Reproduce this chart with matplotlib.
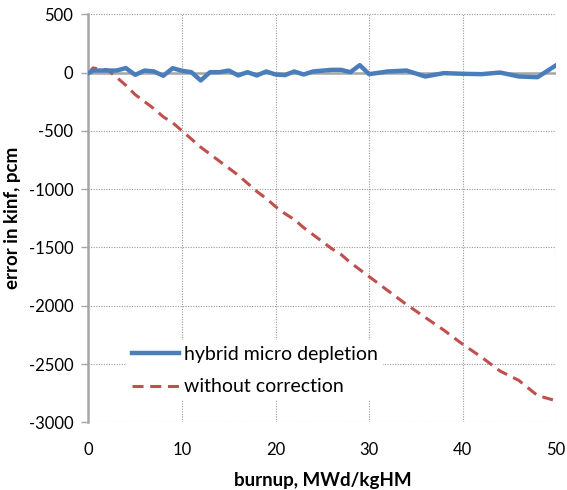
import matplotlib
matplotlib.use('Agg')
import matplotlib.pyplot as plt

# burnup points (MWd/kgHM) and errors (pcm)
burnup_hybrid = [0, 0.5, 1, 2, 3, 4, 5, 6, 7, 8, 9, 10, 11, 12, 13, 14, 15, 16, 17, 18,
                 19, 20, 21, 22, 23, 24, 26, 27, 28, 29, 30, 32, 34, 36, 38, 40, 42, 44,
                 46, 48, 50]
err_hybrid = [-5, 17, 17, 17, 17, 38, -20, 17, 9, -28, 37, 15, 3, -68, 3, 3, 17, -25, 3, -25,
              9, -17, -22, 9, -17, 9, 23, 23, 3, 63, -14, 9, 17, -34, -5, -11, -14, 0,
              -34, -40, 63]

burnup_nocorr = [0, 0.5, 1, 2, 3, 4, 5, 6, 7, 8, 9, 10, 11, 12, 13, 14, 15, 16, 17, 18, 19,
                 20, 21, 22, 23, 24, 25, 26, 27, 28, 29, 30, 32, 34, 36, 38, 40, 42, 44,
                 46, 48, 50]
err_nocorr = [-5, 40, 30, 25, -40, -110, -190, -250, -310, -380, -430, -500, -570, -640,
              -700, -760, -820, -880, -950, -1020, -1080, -1150, -1210, -1260, -1330, -1390,
              -1450, -1510, -1560, -1630, -1690, -1750, -1870, -1990, -2100, -2210, -2330,
              -2440, -2560, -2640, -2770, -2815]

x_ticks = [0, 10, 20, 30, 40, 50]
y_ticks = [500, 0, -500, -1000, -1500, -2000, -2500, -3000]

plt.rcParams['font.family'] = ['Lato', 'DejaVu Sans']
plt.rcParams['axes.unicode_minus'] = False

fig = plt.figure(figsize=(5.67, 4.9), dpi=100)
ax = fig.add_axes([0.156, 0.138, 0.825, 0.833])

# gridlines (dotted grey, as in Excel)
ax.grid(True, linestyle=(0, (1, 1.3)), color='#9a9a9a', linewidth=0.8)
ax.set_axisbelow(True)

# zero axis line
ax.axhline(0, color='#a6a6a6', linewidth=1.8, zorder=1.5)

ax.plot(burnup_hybrid, err_hybrid, color='#4a7ebb', linewidth=3.2,
        label='hybrid micro depletion', zorder=3, solid_joinstyle='round')
ax.plot(burnup_nocorr, err_nocorr, color='#c0504d', linewidth=2.2, linestyle=(0, (3.6, 2.2)),
        label='without correction', zorder=2)

ax.set_xlim(0, 50)
ax.set_ylim(-3000, 500)
ax.set_xticks(x_ticks)
ax.set_yticks(y_ticks)
ax.tick_params(axis='x', length=0, pad=14, labelsize=12)
ax.tick_params(axis='y', length=5, width=1, color='#a6a6a6', pad=6, labelsize=12)

for side in ['top', 'right', 'bottom']:
    ax.spines[side].set_visible(False)
ax.spines['left'].set_color('#a6a6a6')
ax.spines['left'].set_linewidth(1.8)

ax.set_xlabel('burnup, MWd/kgHM', fontsize=13.5, fontweight='bold', labelpad=10)
ax.set_ylabel('error in kinf, pcm', fontsize=13.5, fontweight='bold')
ax.yaxis.set_label_coords(-0.145, 0.5)

leg = ax.legend(loc='lower left', bbox_to_anchor=(0.06, 0.028), frameon=True, fontsize=14,
                handlelength=2.4, handletextpad=0.25, labelspacing=0.8, borderpad=0.3)
leg.get_frame().set_edgecolor('none')
leg.get_frame().set_facecolor('white')
leg.get_frame().set_alpha(1)

plt.savefig('out.png', dpi=100)
